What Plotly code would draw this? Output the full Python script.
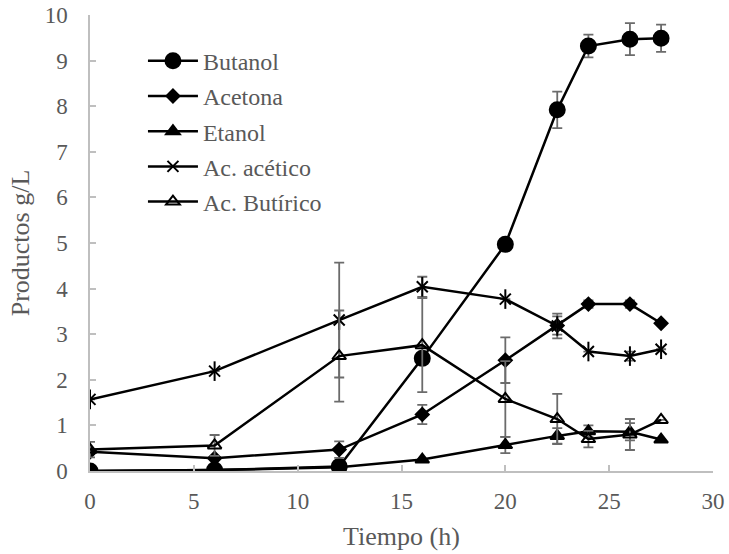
import plotly.graph_objects as go

# Sampling times (h)
tiempo = [0, 6, 12, 16, 20, 22.5, 24, 26, 27.5]

# Product concentrations (g/L) and their standard deviations
butanol = [0.0, 0.02, 0.1, 2.47, 4.97, 7.92, 9.32, 9.47, 9.49]
butanol_err = [0, 0, 0, 0.1, 0, 0.4, 0.25, 0.35, 0.3]

acetona = [0.42, 0.28, 0.47, 1.24, 2.43, 3.19, 3.66, 3.66, 3.24]
acetona_err = [0.05, 0, 0.18, 0.21, 0.5, 0.2, 0.08, 0.08, 0]

etanol = [0.0, 0.02, 0.08, 0.25, 0.57, 0.77, 0.87, 0.86, 0.69]
etanol_err = [0, 0, 0, 0, 0.18, 0.17, 0.13, 0.19, 0]

acetico = [1.57, 2.19, 3.31, 4.04, 3.77, 3.18, 2.62, 2.52, 2.67]
acetico_err = [0, 0, 1.26, 0.22, 0, 0.27, 0, 0.1, 0]

butirico = [0.47, 0.56, 2.52, 2.76, 1.58, 1.14, 0.70, 0.80, 1.12]
butirico_err = [0.17, 0.23, 1.0, 1.03, 0.83, 0.55, 0.18, 0.34, 0]

FONT = "Liberation Serif"
GREY_TXT = "#595959"
GREY_AX = "#BFBFBF"
ERR_COLOR = "#6b6b6b"

series = [
    ("Butanol", butanol, butanol_err, "circle", 15),
    ("Acetona", acetona, acetona_err, "diamond", 10),
    ("Etanol", etanol, etanol_err, "triangle-up", 12),
    ("Ac. acético", acetico, acetico_err, "x-thin-open", 11),
    ("Ac. Butírico", butirico, butirico_err, "triangle-up-open", 12),
]

fig = go.Figure()
for rank, (name, vals, err, sym, size) in enumerate(series):
    fig.add_trace(go.Scatter(
        x=tiempo, y=vals, name=name, mode="lines+markers",
        legendrank=rank + 1, legendgroup=name,
        line=dict(color="black", width=2.5),
        marker=dict(symbol=sym, size=size, color="black",
                    line=dict(color="black", width=2)),
        error_y=dict(type="data", array=err, visible=True,
                     color=ERR_COLOR, thickness=1.8, width=5),
    ))
    if name == "Ac. acético":
        # vertical stroke completing the six-armed star marker
        fig.add_trace(go.Scatter(
            x=tiempo, y=vals, mode="markers", showlegend=False,
            legendgroup=name, hoverinfo="skip",
            marker=dict(symbol="line-ns-open", size=14, color="black",
                        line=dict(color="black", width=2)),
        ))

axis_common = dict(
    showgrid=False, zeroline=False, showline=True, automargin=False,
    linecolor=GREY_AX, linewidth=1.5,
    ticks="inside", ticklen=6, tickcolor=GREY_AX, tickwidth=1.5,
    tickfont=dict(family=FONT, size=23, color=GREY_TXT),
)

fig.update_layout(
    width=729, height=554,
    margin=dict(l=90, r=16, t=15, b=83),
    paper_bgcolor="white", plot_bgcolor="white",
    font=dict(family=FONT, color=GREY_TXT),
    xaxis=dict(range=[0, 30], dtick=5, ticklabelstandoff=9,
               title=dict(text="Tiempo (h)", standoff=13,
                          font=dict(family=FONT, size=26, color=GREY_TXT)),
               **axis_common),
    yaxis=dict(range=[0, 10], dtick=1, ticklabelstandoff=16,
               title=dict(text="Productos g/L", standoff=8,
                          font=dict(family=FONT, size=26, color=GREY_TXT)),
               **axis_common),
    legend=dict(x=0.085, y=0.948, xanchor="left", yanchor="top",
                bgcolor="rgba(0,0,0,0)", traceorder="grouped",
                font=dict(family=FONT, size=24, color=GREY_TXT),
                itemwidth=50, tracegroupgap=1),
    showlegend=True,
)

fig.write_html("out.html")
